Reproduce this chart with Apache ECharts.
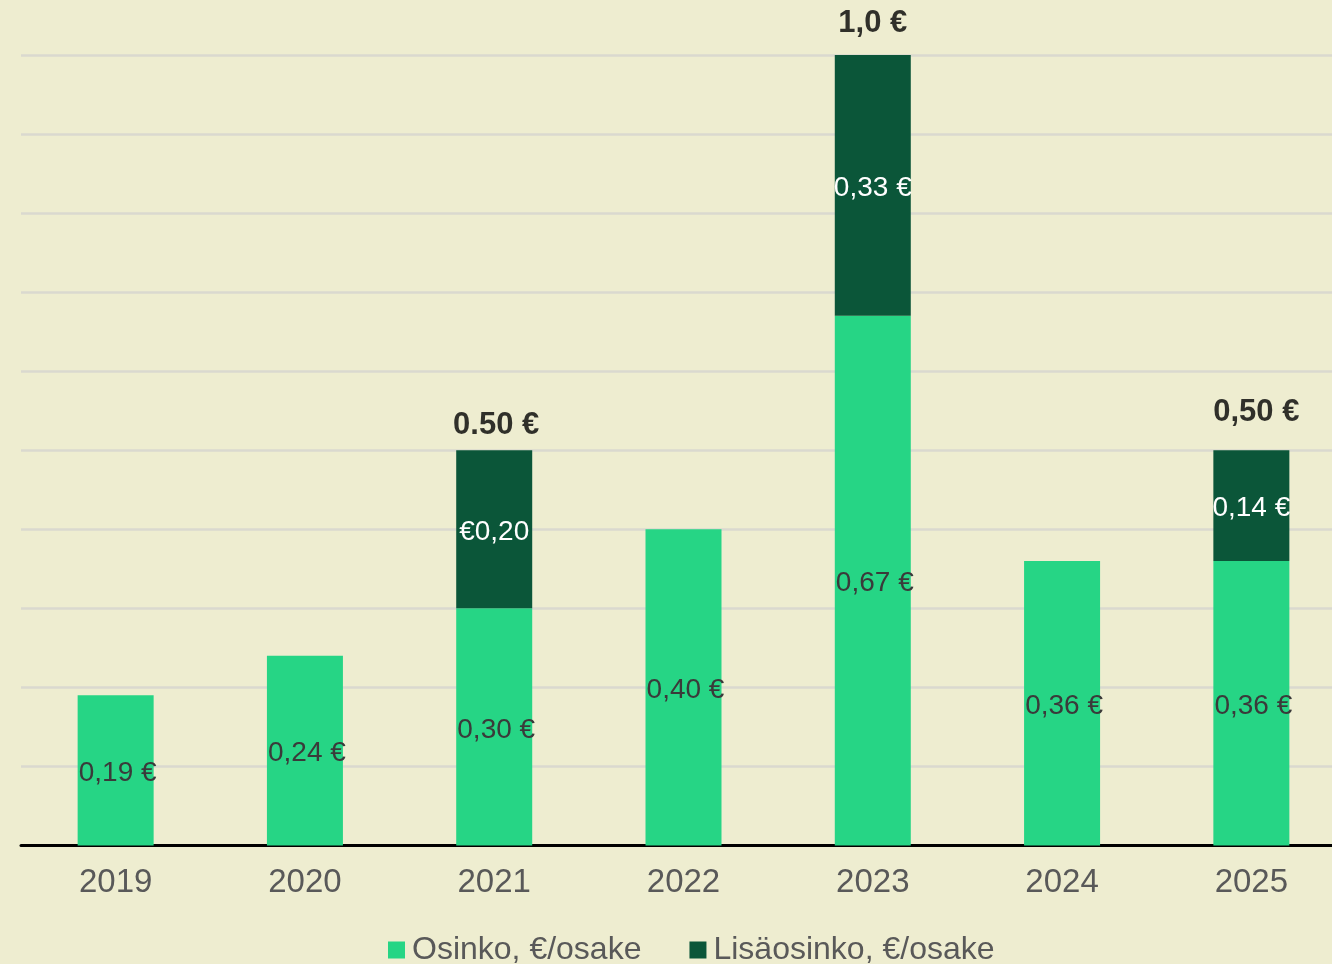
<!DOCTYPE html>
<html>
<head>
<meta charset="utf-8">
<script src="https://cdn.jsdelivr.net/npm/echarts@6/dist/echarts.min.js"></script>
<style>
html,body{margin:0;padding:0;background:#EEEDD0;}
#chart{width:1332px;height:964px;}
</style>
</head>
<body>
<div id="chart"></div>
<script>
const categories = ['2019','2020','2021','2022','2023','2024','2025'];
const osinko = [0.19, 0.24, 0.30, 0.40, 0.67, 0.36, 0.36];
const lisaosinko = [null, null, 0.20, null, 0.33, null, 0.14];
const osinkoLabels = ['0,19 €','0,24 €','0,30 €','0,40 €','0,67 €','0,36 €','0,36 €'];
const lisaLabels = ['', '', '€0,20', '', '0,33 €', '', '0,14 €'];
const totalLabels = ['', '', '0.50 €', '', '1,0 €', '', '0,50 €'];
const seriesNames = ['Osinko, €/osake', 'Lisäosinko, €/osake'];

const FONT = '"Liberation Sans", Arial, sans-serif';
const totals = osinko.map((v, i) => lisaosinko[i] == null ? null : +(v + lisaosinko[i]).toFixed(2));
const totalDist = {2: [2, 9], 4: [0, 16], 6: [5, 22]};

const chart = echarts.init(document.getElementById('chart'), null, {renderer: 'canvas'});
chart.setOption({
  backgroundColor: '#EEEDD0',
  animation: false,
  grid: {left: 21, width: 1325, top: 55, bottom: 118.5, containLabel: false, outerBoundsMode: 'none'},
  legend: {
    data: seriesNames,
    left: 383,
    top: 929,
    icon: 'rect',
    itemWidth: 17,
    itemHeight: 17,
    itemGap: 48,
    textStyle: {fontFamily: FONT, fontSize: 32, color: '#595959', padding: [0, 0, 0, 2]}
  },
  xAxis: {
    type: 'category',
    data: categories,
    axisLine: {show: true, lineStyle: {color: '#000', width: 3}},
    axisTick: {show: false},
    axisLabel: {fontFamily: FONT, fontSize: 33, color: '#595959', margin: 21},
    splitLine: {show: false}
  },
  yAxis: {
    type: 'value',
    min: 0, max: 1.0, interval: 0.1,
    axisLine: {show: false},
    axisTick: {show: false},
    axisLabel: {show: false},
    splitLine: {show: true, lineStyle: {color: '#DAD9CF', width: 2.5}}
  },
  series: [
    {
      name: seriesNames[0],
      type: 'bar',
      stack: 'a',
      barWidth: 76,
      data: osinko,
      itemStyle: {color: '#26D585'},
      label: {
        show: true, position: 'inside', offset: [2, 3],
        fontFamily: FONT, fontSize: 28, color: '#3a3a3a',
        formatter: p => osinkoLabels[p.dataIndex]
      }
    },
    {
      name: seriesNames[1],
      type: 'bar',
      stack: 'a',
      barWidth: 76,
      data: lisaosinko,
      itemStyle: {color: '#0B5639'},
      label: {
        show: true, position: 'inside', offset: [0, 3],
        fontFamily: FONT, fontSize: 28, color: '#ffffff',
        formatter: p => lisaLabels[p.dataIndex]
      }
    },
    {
      name: 'total',
      type: 'scatter',
      symbolSize: 0,
      silent: true,
      data: totals.map((v, i) => {
        if (v == null) return null;
        const d = totalDist[i] || [0, 10];
        return {value: v, label: {distance: d[1], offset: [d[0], 0]}};
      }),
      label: {
        show: true, position: 'top',
        fontFamily: FONT, fontSize: 31, fontWeight: 'bold', color: '#000',
        formatter: p => totalLabels[p.dataIndex]
      }
    }
  ]
});
</script>
</body>
</html>
